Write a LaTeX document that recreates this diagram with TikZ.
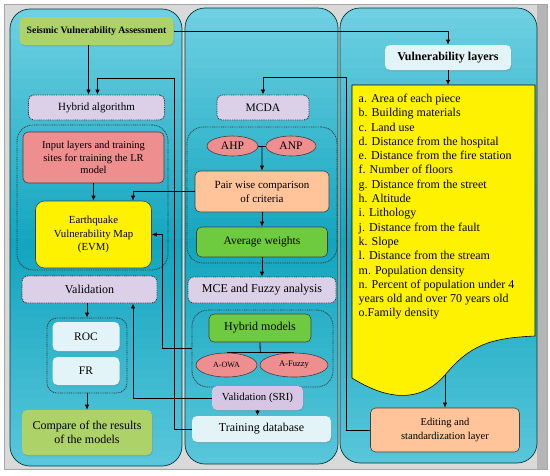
\documentclass[tikz,border=0pt]{standalone}
\usepackage{fontspec}
\setmainfont{Liberation Serif}
\usetikzlibrary{arrows.meta,calc,shapes.geometric,shadows}
\definecolor{paneltop}{HTML}{6ED0E2}
\definecolor{panelmid}{HTML}{12A5BF}
\definecolor{panelbot}{HTML}{5CC8DC}
\definecolor{lilac}{HTML}{DCD0E8}
\definecolor{rose}{HTML}{EE8E8E}
\definecolor{peach}{HTML}{FFC499}
\definecolor{leaf}{HTML}{6ECB3F}
\definecolor{glossg}{HTML}{ADD267}
\definecolor{glossw}{HTML}{E2F4F8}
\definecolor{violet}{HTML}{D6C6E4}
\tikzset{
  box/.style={draw=black!75,rounded corners=5pt,line width=0.6pt,align=center,
    inner sep=1pt,font=\fontsize{11}{12.5}\selectfont},
  lilacbox/.style={box,fill=lilac,draw=black!80,dash pattern=on 0.9pt off 0.9pt,line width=0.9pt},
  grp/.style={draw=black!80,dash pattern=on 0.9pt off 0.9pt,line width=0.8pt,
    rounded corners=16pt},
  gloss/.style={box,draw=none,
    drop shadow={shadow xshift=0.8pt,shadow yshift=-1.3pt,opacity=0.35}},
  glosswhite/.style={gloss,fill=glossw},
  glossgreen/.style={gloss,fill=glossg},
  ell/.style={ellipse,draw=black!75,fill=rose,line width=0.6pt,inner sep=0pt},
  arr/.style={-{Latex[length=5pt,width=4.5pt]},line width=0.8pt},
  plain/.style={line width=0.8pt}
}
\begin{document}
\begin{tikzpicture}[x=1pt,y=-1pt]
  \useasboundingbox (0,0) rectangle (550,475);
  % frame and the three columns
  \fill[gray!30] (4,4) rectangle (547,469);
  \fill[gray!58] (537,4) rectangle (547,469);
  \draw[gray!70] (4,4) rectangle (547,469);
  \foreach \px/\py/\qx/\qy in {10/9/182/466,185/8/338/464,340/8/537/463}{
    \begin{scope}
      \clip[rounded corners=20pt] (\px,\py) rectangle (\qx,\qy);
      \foreach \k in {0,...,46}{
        \pgfmathsetmacro\ma{min(100,200*\k/46)}
        \pgfmathsetmacro\mb{max(0,200*\k/46-100)}
        \colorlet{stripc}{panelmid!\ma!paneltop}
        \fill[panelbot!\mb!stripc] (\px,\py+10*\k) rectangle (\qx,\py+10*\k+10.6);
      }
    \end{scope}
    \draw[black!55!teal,line width=0.7pt,rounded corners=20pt] (\px,\py) rectangle (\qx,\qy);
  }

  % left column
  \node[glossgreen,minimum width=154pt,minimum height=28pt,
    font=\fontsize{9.8}{11}\selectfont\bfseries] (sva) at (96.5,31)
    {Seismic Vulnerability Assessment};
  \node[lilacbox,minimum width=136pt,minimum height=25pt] (ha) at (96.5,107.5)
    {Hybrid algorithm};
  \node[grp,minimum width=151pt,minimum height=145pt] (grpin) at (92.5,197.5) {};
  \node[box,fill=rose,minimum width=141pt,minimum height=51pt,
    font=\fontsize{10.5}{12.5}\selectfont] (inp) at (93.5,157.5)
    {Input layers and training\\sites for training the LR\\model};
  \node[box,fill=yellow,rounded corners=9pt,minimum width=116pt,minimum height=67pt,
    font=\fontsize{10.8}{13.5}\selectfont] (evm) at (93.5,234.5)
    {Earthquake\\Vulnerability Map\\(EVM)};
  \node[lilacbox,minimum width=135pt,minimum height=27pt,
    font=\fontsize{12}{13}\selectfont] (val) at (89.5,289.5) {Validation};
  \node[grp,rounded corners=10pt,minimum width=80pt,minimum height=75pt] (grpeval)
    at (87,355.5) {};
  \node[glosswhite,minimum width=67pt,minimum height=29pt,
    font=\fontsize{11.5}{12}\selectfont] (roc) at (86,336.5) {ROC};
  \node[glosswhite,minimum width=67pt,minimum height=28pt,
    font=\fontsize{11.5}{12}\selectfont] (fr) at (86,371) {FR};
  \node[glossgreen,minimum width=130pt,minimum height=45pt,
    font=\fontsize{12}{14.5}\selectfont] (cmp) at (87,432.5)
    {Compare of the results\\of the models};

  % middle column
  \node[lilacbox,minimum width=92pt,minimum height=25pt,
    font=\fontsize{11.5}{12.5}\selectfont] (mcda) at (263,107.5) {MCDA};
  \node[grp,minimum width=150pt,minimum height=136pt] (grpmcda) at (262,195) {};
  \node[ell,minimum width=51pt,minimum height=20pt,font=\fontsize{11.5}{12}\selectfont]
    (ahp) at (232.5,146) {AHP};
  \node[ell,minimum width=50pt,minimum height=20pt,font=\fontsize{11.5}{12}\selectfont]
    (anp) at (291,146) {ANP};
  \node[box,fill=peach,minimum width=134pt,minimum height=41pt,
    font=\fontsize{11}{14}\selectfont] (pw) at (262,191.5)
    {Pair wise comparison\\of criteria};
  \node[box,fill=leaf,minimum width=131pt,minimum height=30pt,
    font=\fontsize{11.5}{12}\selectfont] (avg) at (262,242) {Average weights};
  \node[lilacbox,minimum width=148pt,minimum height=26pt,
    font=\fontsize{12}{13}\selectfont] (mce) at (262,290) {MCE and Fuzzy analysis};
  \node[grp,minimum width=141pt,minimum height=77pt] (grphyb) at (262.5,348.5) {};
  \node[box,fill=leaf,minimum width=102pt,minimum height=28pt,
    font=\fontsize{12}{13}\selectfont] (hm) at (260,328) {Hybrid models};
  \node[ell,minimum width=61pt,minimum height=24pt,font=\fontsize{8}{10}\selectfont]
    (aowa) at (226.5,365) {A-OWA};
  \node[ell,minimum width=68pt,minimum height=24pt,font=\fontsize{8.5}{10}\selectfont]
    (afz) at (294,365) {A-Fuzzy};
  \node[gloss,fill=violet,minimum width=91pt,minimum height=24pt,
    font=\fontsize{10.8}{12}\selectfont] (vsri) at (257.5,398) {Validation (SRI)};
  \node[glosswhite,minimum width=139pt,minimum height=26pt,
    font=\fontsize{12}{13}\selectfont] (tdb) at (261.5,429) {Training database};

  % right column
  \node[glosswhite,minimum width=126pt,minimum height=25pt,
    font=\fontsize{12}{13}\selectfont\bfseries] (vl) at (448,57.5)
    {Vulnerability layers};
  \draw[fill=yellow,line width=0.6pt] (352,85) -- (535,85) -- (535,336)
    .. controls (490,338) and (470,345) .. (445,375)
    .. controls (425,398) and (395,405) .. (352,378) -- cycle;
  \coordinate (doctop) at (448,85);
  \coordinate (wavept) at (445,375);
  \node[anchor=north west,inner sep=0pt,align=left,
    font=\fontsize{12}{14.3}\selectfont] (layers) at (358.5,93.8)
    {a. Area of each piece\\b. Building materials\\c. Land use\\
     d. Distance from the hospital\\e. Distance from the fire station\\
     f. Number of floors\\g. Distance from the street\\h. Altitude\\
     i. Lithology\\j. Distance from the fault\\k. Slope\\
     l. Distance from the stream\\m. Population density\\
     n. Percent of population under 4\\years old and over 70 years old\\
     o.Family density};
  \node[box,fill=peach,minimum width=149pt,minimum height=44pt,
    font=\fontsize{10.5}{14}\selectfont] (edit) at (445,430)
    {Editing and\\standardization layer};

  % connectors
  \draw[arr] (sva.east) -| (vl.north);
  \draw[arr] ([xshift=-8pt]sva.south) -- ([xshift=-8pt]ha.north);
  \draw[arr] (tdb.west) -| ++(-17,-351) -| ([xshift=1pt]ha.north);
  \draw[arr] (inp.south) -- (evm.north);
  \draw[arr] (pw.west) -| ([xshift=39.5pt]evm.north);
  \draw[arr] (grphyb.west) -- ++(-29,0) |- (evm.east);
  \draw[arr] (vsri.west) -| ([xshift=43.5pt]val.south);
  \draw[arr] (val.south -| grpeval.north) -- (grpeval.north);
  \draw[arr] (grpeval.south) -- (cmp.north);
  \draw[arr] (edit.west) -| ++(-23.5,-353) -| (mcda.north);
  \draw[arr] (vl.south) -- (doctop);
  \draw[arr] (wavept) -- (edit.north);
  \draw[plain] (ahp.east) -- (anp.west);
  \draw[arr] ($(ahp.east)!0.5!(anp.west)$) -- (pw.north);
  \draw[arr] (pw.south) -- (avg.north);
  \draw[arr] (avg.south) -- (mce.north);
  \draw[plain] (aowa.north) -- (afz.north);
  \draw[plain] (hm.south) -- ($(aowa.north)!0.5!(afz.north)$);
  \draw[arr] (vsri.south) -- (vsri.south |- tdb.north);
\end{tikzpicture}
\end{document}
